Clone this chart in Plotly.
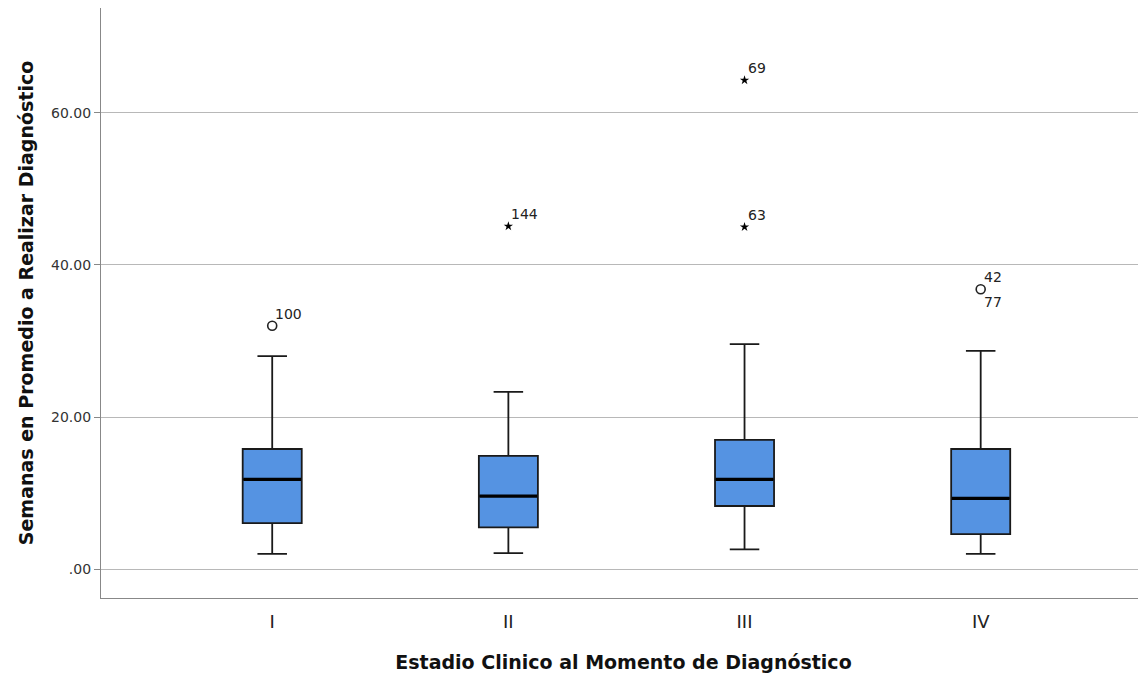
import plotly.graph_objects as go

categories = ["I", "II", "III", "IV"]
lower_whisker = [2.0, 2.1, 2.6, 2.0]
q1 = [6.05, 5.5, 8.3, 4.6]
median = [11.8, 9.6, 11.8, 9.3]
q3 = [15.8, 14.9, 17.0, 15.8]
upper_whisker = [28.0, 23.3, 29.6, 28.7]

# outliers: category index, value, case label, type ("o" mild, "*" extreme)
outlier_cat = [0, 1, 2, 2, 3, 3]
outlier_val = [32.0, 45.1, 45.0, 64.3, 36.8, 36.8]
outlier_label = ["100", "144", "63", "69", "42", "77"]
outlier_type = ["o", "*", "*", "*", "o", "o"]

y_tick_vals = [0, 20, 40, 60]
y_tick_text = [".00", "20.00", "40.00", "60.00"]

BOX_W = 0.25
FILL = "#5593E2"
FONT = "DejaVu Sans"

fig = go.Figure()
pos = list(range(len(categories)))
fig.add_trace(go.Box(
    x=pos, q1=q1, median=median, q3=q3,
    lowerfence=lower_whisker, upperfence=upper_whisker,
    width=BOX_W, whiskerwidth=0.5,
    fillcolor=FILL, line=dict(color="#1a1a1a", width=1.8),
    boxpoints=False, showlegend=False, hoverinfo="skip",
))
# thick medians
for i, m in enumerate(median):
    fig.add_trace(go.Scatter(
        x=[pos[i] - BOX_W / 2 + 0.003, pos[i] + BOX_W / 2 - 0.003], y=[m, m],
        mode="lines", line=dict(color="black", width=3.2),
        showlegend=False, hoverinfo="skip",
    ))

# outlier markers
seen = {}
for c, v, lab, t in zip(outlier_cat, outlier_val, outlier_label, outlier_type):
    key = (c, v)
    first = key not in seen
    seen[key] = True
    if first:
        fig.add_trace(go.Scatter(
            x=[c], y=[v], mode="markers",
            marker=dict(
                symbol="circle-open" if t == "o" else "star",
                size=9 if t == "o" else 7,
                color="black" if t == "*" else "#222",
                line=dict(width=1.6 if t == "o" else 0, color="#222"),
            ),
            showlegend=False, hoverinfo="skip",
        ))
        fig.add_annotation(x=c, y=v, text=lab, showarrow=False,
                           xanchor="left", yanchor="bottom", xshift=1, yshift=2,
                           font=dict(family=FONT, size=14, color="#222"))
    else:
        fig.add_annotation(x=c, y=v, text=lab, showarrow=False,
                           xanchor="left", yanchor="top", xshift=1, yshift=-3,
                           font=dict(family=FONT, size=14, color="#222"))

fig.update_layout(
    width=1138, height=671,
    margin=dict(l=93, r=0, t=0, b=81),
    paper_bgcolor="white", plot_bgcolor="white",
    font=dict(family=FONT, color="#222"),
    xaxis=dict(
        range=[-0.725, 3.70], tickvals=pos, ticktext=categories,
        showgrid=False, zeroline=False, showline=True, linecolor="#888", linewidth=1.2,
        ticks="outside", ticklen=7, tickcolor="rgba(0,0,0,0)",
        tickfont=dict(size=18, color="#222"),
        title=dict(text="<b>Estadio Clinico al Momento de Diagnóstico</b>",
                   font=dict(size=19, color="#111"), standoff=24),
    ),
    yaxis=dict(
        range=[-3.8, 73.8], tickvals=y_tick_vals, ticktext=y_tick_text,
        showgrid=True, gridcolor="#b8b8b8", gridwidth=1, zeroline=False,
        showline=True, linecolor="#888", linewidth=1.2,
        ticks="outside", ticklen=6, tickcolor="#888",
        tickfont=dict(size=14, color="#333"),
        title=dict(text="<b>Semanas en Promedio a Realizar Diagnóstico</b>",
                   font=dict(size=19, color="#111"), standoff=12),
    ),
)

fig.write_html("out.html")
